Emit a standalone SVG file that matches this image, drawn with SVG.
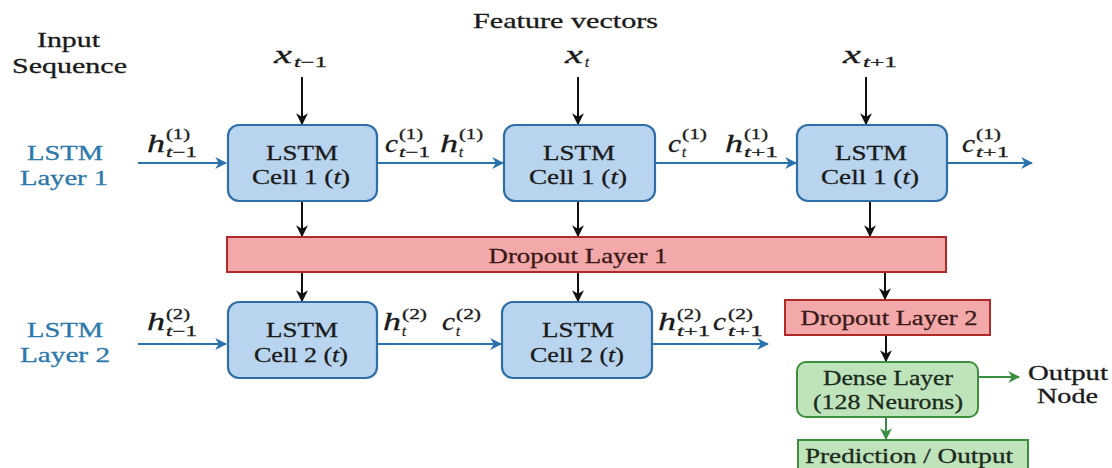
<svg xmlns="http://www.w3.org/2000/svg" width="1112" height="468" viewBox="0 0 1112 468">
  <style>
    text { font-family: "Liberation Serif", "DejaVu Serif", serif; fill: #1a1a1a; stroke: #1a1a1a; stroke-width: 0.3; }
    .title { font-size: 21px; }
    .layer { font-size: 21px; fill: #2b78ab; stroke: #2b78ab; }
    .cell-text { font-size: 21px; text-anchor: middle; }
    .drop-text { font-size: 21px; text-anchor: middle; fill: #3a1818; stroke: #3a1818; }
    .dense-text { font-size: 21px; text-anchor: middle; fill: #1c2a1c; stroke: #1c2a1c; }
    .m { font-size: 25px; font-style: italic; }
    .s { font-size: 14px; }
    .it { font-style: italic; }
    .cell { fill: #b9d4ee; stroke: #2f6ea6; stroke-width: 2.2; }
    .drop { fill: #f3a9aa; stroke: #b02a2a; stroke-width: 2; }
    .dense { fill: #bfe3bb; stroke: #3d8f3d; stroke-width: 2; }
    .k { stroke: #111; stroke-width: 2; fill: none; }
    .b { stroke: #2a72ad; stroke-width: 2; fill: none; }
    .g { stroke: #3a9040; stroke-width: 2; fill: none; }
  </style>
  <defs>
    <marker id="ak" viewBox="0 0 10 10" refX="9" refY="5" markerWidth="6" markerHeight="6" orient="auto">
      <path d="M0,0 L10,5 L0,10 L3,5 z" fill="#111"/>
    </marker>
    <marker id="ab" viewBox="0 0 10 10" refX="9" refY="5" markerWidth="6" markerHeight="6" orient="auto">
      <path d="M0,0 L10,5 L0,10 L3,5 z" fill="#2a72ad"/>
    </marker>
    <marker id="ag" viewBox="0 0 10 10" refX="9" refY="5" markerWidth="6" markerHeight="6" orient="auto">
      <path d="M0,0 L10,5 L0,10 L3,5 z" fill="#3a9040"/>
    </marker>
  </defs>

  <rect width="1112" height="468" fill="#ffffff"/>

  <!-- headings -->
  <g id="headings">
    <text class="title" x="37" y="47" textLength="63" lengthAdjust="spacingAndGlyphs">Input</text>
    <text class="title" x="12" y="73" textLength="115" lengthAdjust="spacingAndGlyphs">Sequence</text>
    <text class="title" x="473" y="28" textLength="185" lengthAdjust="spacingAndGlyphs">Feature vectors</text>
    <text class="layer" x="27" y="160" textLength="76" lengthAdjust="spacingAndGlyphs">LSTM</text>
    <text class="layer" x="20" y="185" textLength="88" lengthAdjust="spacingAndGlyphs">Layer 1</text>
    <text class="layer" x="27" y="337" textLength="76" lengthAdjust="spacingAndGlyphs">LSTM</text>
    <text class="layer" x="20" y="362" textLength="90" lengthAdjust="spacingAndGlyphs">Layer 2</text>
  </g>

  <!-- connectors -->
  <g id="connectors">
    <!-- inputs into layer 1 -->
    <line class="k" x1="302" y1="77" x2="302" y2="124" marker-end="url(#ak)"/>
    <line class="k" x1="578" y1="77" x2="578" y2="124" marker-end="url(#ak)"/>
    <line class="k" x1="866" y1="77" x2="866" y2="124" marker-end="url(#ak)"/>
    <!-- layer 1 recurrence -->
    <line class="b" x1="138" y1="163" x2="226" y2="163" marker-end="url(#ab)"/>
    <line class="b" x1="377" y1="163" x2="503" y2="163" marker-end="url(#ab)"/>
    <line class="b" x1="655" y1="163" x2="796" y2="163" marker-end="url(#ab)"/>
    <line class="b" x1="947" y1="163" x2="1032" y2="163" marker-end="url(#ab)"/>
    <!-- layer 1 into dropout 1 -->
    <line class="k" x1="302" y1="201" x2="302" y2="236" marker-end="url(#ak)"/>
    <line class="k" x1="578" y1="201" x2="578" y2="236" marker-end="url(#ak)"/>
    <line class="k" x1="870" y1="201" x2="870" y2="236" marker-end="url(#ak)"/>
    <!-- dropout 1 into layer 2 / dropout 2 -->
    <line class="k" x1="302" y1="272" x2="302" y2="301" marker-end="url(#ak)"/>
    <line class="k" x1="578" y1="272" x2="578" y2="301" marker-end="url(#ak)"/>
    <line class="k" x1="885" y1="272" x2="885" y2="299" marker-end="url(#ak)"/>
    <!-- layer 2 recurrence -->
    <line class="b" x1="138" y1="344" x2="226" y2="344" marker-end="url(#ab)"/>
    <line class="b" x1="377" y1="344" x2="501" y2="344" marker-end="url(#ab)"/>
    <line class="b" x1="652" y1="344" x2="768" y2="344" marker-end="url(#ab)"/>
    <!-- head -->
    <line class="k" x1="886" y1="335" x2="886" y2="361" marker-end="url(#ak)"/>
    <line class="g" x1="978" y1="377" x2="1019" y2="377" marker-end="url(#ag)"/>
    <line class="g" x1="886" y1="417" x2="886" y2="439" marker-end="url(#ag)"/>
  </g>

  <!-- feature vector labels -->
  <g id="inputs">
    <text class="m" x="274" y="63" textLength="18" lengthAdjust="spacingAndGlyphs">x</text>
    <text class="s" x="294" y="67" textLength="33" lengthAdjust="spacingAndGlyphs"><tspan class="it">t</tspan>−1</text>
    <text class="m" x="565" y="63" textLength="18" lengthAdjust="spacingAndGlyphs">x</text>
    <text class="s it" x="585" y="67">t</text>
    <text class="m" x="843" y="63" textLength="18" lengthAdjust="spacingAndGlyphs">x</text>
    <text class="s" x="863" y="67" textLength="34" lengthAdjust="spacingAndGlyphs"><tspan class="it">t</tspan>+1</text>
  </g>

  <!-- state labels, layer 1 -->
  <g id="states-1">
    <text class="m" x="147" y="152" textLength="18" lengthAdjust="spacingAndGlyphs">h</text>
    <text class="s" x="166" y="139" textLength="24" lengthAdjust="spacingAndGlyphs">(1)</text>
    <text class="s" x="166" y="157" textLength="31" lengthAdjust="spacingAndGlyphs"><tspan class="it">t</tspan>−1</text>

    <text class="m" x="385" y="152" textLength="13" lengthAdjust="spacingAndGlyphs">c</text>
    <text class="s" x="399" y="139" textLength="24" lengthAdjust="spacingAndGlyphs">(1)</text>
    <text class="s" x="399" y="157" textLength="31" lengthAdjust="spacingAndGlyphs"><tspan class="it">t</tspan>−1</text>

    <text class="m" x="440" y="152" textLength="18" lengthAdjust="spacingAndGlyphs">h</text>
    <text class="s" x="459" y="139" textLength="24" lengthAdjust="spacingAndGlyphs">(1)</text>
    <text class="s it" x="459" y="157">t</text>

    <text class="m" x="668" y="152" textLength="13" lengthAdjust="spacingAndGlyphs">c</text>
    <text class="s" x="682" y="139" textLength="25" lengthAdjust="spacingAndGlyphs">(1)</text>
    <text class="s it" x="682" y="157">t</text>

    <text class="m" x="725" y="152" textLength="18" lengthAdjust="spacingAndGlyphs">h</text>
    <text class="s" x="744" y="139" textLength="24" lengthAdjust="spacingAndGlyphs">(1)</text>
    <text class="s" x="744" y="157" textLength="34" lengthAdjust="spacingAndGlyphs"><tspan class="it">t</tspan>+1</text>

    <text class="m" x="962" y="152" textLength="13" lengthAdjust="spacingAndGlyphs">c</text>
    <text class="s" x="976" y="139" textLength="25" lengthAdjust="spacingAndGlyphs">(1)</text>
    <text class="s" x="976" y="157" textLength="33" lengthAdjust="spacingAndGlyphs"><tspan class="it">t</tspan>+1</text>
  </g>

  <!-- state labels, layer 2 -->
  <g id="states-2">
    <text class="m" x="147" y="330" textLength="18" lengthAdjust="spacingAndGlyphs">h</text>
    <text class="s" x="166" y="319" textLength="24" lengthAdjust="spacingAndGlyphs">(2)</text>
    <text class="s" x="166" y="336" textLength="31" lengthAdjust="spacingAndGlyphs"><tspan class="it">t</tspan>−1</text>

    <text class="m" x="383" y="330" textLength="18" lengthAdjust="spacingAndGlyphs">h</text>
    <text class="s" x="402" y="319" textLength="25" lengthAdjust="spacingAndGlyphs">(2)</text>
    <text class="s it" x="402" y="336">t</text>

    <text class="m" x="442" y="330" textLength="13" lengthAdjust="spacingAndGlyphs">c</text>
    <text class="s" x="456" y="319" textLength="25" lengthAdjust="spacingAndGlyphs">(2)</text>
    <text class="s it" x="456" y="336">t</text>

    <text class="m" x="658" y="330" textLength="18" lengthAdjust="spacingAndGlyphs">h</text>
    <text class="s" x="677" y="319" textLength="24" lengthAdjust="spacingAndGlyphs">(2)</text>
    <text class="s" x="677" y="336" textLength="33" lengthAdjust="spacingAndGlyphs"><tspan class="it">t</tspan>+1</text>

    <text class="m" x="713" y="330" textLength="13" lengthAdjust="spacingAndGlyphs">c</text>
    <text class="s" x="728" y="319" textLength="25" lengthAdjust="spacingAndGlyphs">(2)</text>
    <text class="s" x="728" y="336" textLength="35" lengthAdjust="spacingAndGlyphs"><tspan class="it">t</tspan>+1</text>
  </g>

  <!-- layer 1 cells -->
  <g id="cell-1-a">
    <rect class="cell" x="228" y="125" width="149" height="76" rx="11"/>
    <text class="cell-text" x="302" y="160" textLength="72" lengthAdjust="spacingAndGlyphs">LSTM</text>
    <text class="cell-text" x="301" y="184" textLength="98" lengthAdjust="spacingAndGlyphs">Cell 1 (<tspan class="it">t</tspan>)</text>
  </g>
  <g id="cell-1-b">
    <rect class="cell" x="504" y="125" width="151" height="76" rx="11"/>
    <text class="cell-text" x="579" y="160" textLength="72" lengthAdjust="spacingAndGlyphs">LSTM</text>
    <text class="cell-text" x="578" y="184" textLength="98" lengthAdjust="spacingAndGlyphs">Cell 1 (<tspan class="it">t</tspan>)</text>
  </g>
  <g id="cell-1-c">
    <rect class="cell" x="797" y="125" width="150" height="76" rx="11"/>
    <text class="cell-text" x="871" y="160" textLength="72" lengthAdjust="spacingAndGlyphs">LSTM</text>
    <text class="cell-text" x="870" y="184" textLength="98" lengthAdjust="spacingAndGlyphs">Cell 1 (<tspan class="it">t</tspan>)</text>
  </g>

  <!-- dropout 1 -->
  <g id="dropout-1">
    <rect class="drop" x="227" y="237" width="719" height="35"/>
    <text class="drop-text" x="578" y="263" textLength="179" lengthAdjust="spacingAndGlyphs">Dropout Layer 1</text>
  </g>

  <!-- layer 2 cells -->
  <g id="cell-2-a">
    <rect class="cell" x="228" y="302" width="149" height="76" rx="11"/>
    <text class="cell-text" x="302" y="337" textLength="72" lengthAdjust="spacingAndGlyphs">LSTM</text>
    <text class="cell-text" x="301" y="362" textLength="94" lengthAdjust="spacingAndGlyphs">Cell 2 (<tspan class="it">t</tspan>)</text>
  </g>
  <g id="cell-2-b">
    <rect class="cell" x="502" y="302" width="150" height="76" rx="11"/>
    <text class="cell-text" x="578" y="337" textLength="72" lengthAdjust="spacingAndGlyphs">LSTM</text>
    <text class="cell-text" x="577" y="362" textLength="94" lengthAdjust="spacingAndGlyphs">Cell 2 (<tspan class="it">t</tspan>)</text>
  </g>

  <!-- dropout 2 -->
  <g id="dropout-2">
    <rect class="drop" x="785" y="300" width="205" height="35"/>
    <text class="drop-text" x="889" y="325" textLength="177" lengthAdjust="spacingAndGlyphs">Dropout Layer 2</text>
  </g>

  <!-- dense head -->
  <g id="dense">
    <rect class="dense" x="797" y="362" width="181" height="55" rx="9"/>
    <text class="dense-text" x="888" y="385" textLength="130" lengthAdjust="spacingAndGlyphs">Dense Layer</text>
    <text class="dense-text" x="888" y="409" textLength="150" lengthAdjust="spacingAndGlyphs">(128 Neurons)</text>
  </g>

  <g id="output-node">
    <text class="title" x="1028" y="380" textLength="80" lengthAdjust="spacingAndGlyphs">Output</text>
    <text class="title" x="1037" y="403" textLength="61" lengthAdjust="spacingAndGlyphs">Node</text>
  </g>

  <g id="prediction">
    <rect class="dense" x="798" y="440" width="230" height="40"/>
    <text class="dense-text" x="909" y="463" textLength="208" lengthAdjust="spacingAndGlyphs">Prediction / Output</text>
  </g>
</svg>
